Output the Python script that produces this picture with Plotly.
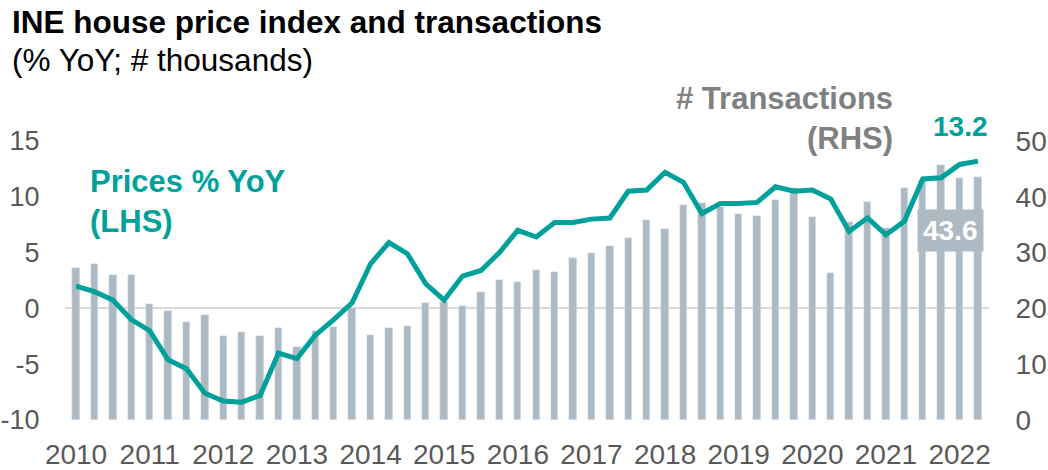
import plotly.graph_objects as go

# Quarterly data, 2010Q1 .. 2022Q2
transactions = [27.2, 27.9, 25.9, 25.9,
                20.8, 19.5, 17.5, 18.9,
                15.1, 15.8, 15.0, 16.4,
                13.1, 15.9, 16.6, 20.0,
                15.3, 16.4, 16.9, 20.9,
                21.2, 20.5, 22.9, 25.1,
                24.8, 26.8, 26.6, 29.0,
                29.9, 31.1, 32.6, 35.8,
                34.3, 38.6, 38.9, 38.1,
                36.9, 36.5, 39.5, 41.6,
                36.3, 26.3, 35.5, 39.0,
                34.4, 41.6, 43.0, 45.7,
                43.4, 43.6]
prices_yoy = [2.0, 1.5, 0.75, -1.0,
              -2.0, -4.6, -5.4, -7.6,
              -8.3, -8.4, -7.8, -4.0,
              -4.5, -2.4, -1.0, 0.5,
              4.0, 5.9, 4.9, 2.2,
              0.75, 2.9, 3.4, 5.0,
              7.0, 6.4, 7.7, 7.7,
              8.0, 8.1, 10.5, 10.6,
              12.2, 11.3, 8.5, 9.4,
              9.4, 9.5, 10.9, 10.5,
              10.6, 9.8, 6.9, 8.1,
              6.6, 7.8, 11.6, 11.7,
              12.9, 13.2]
years = ["2010", "2011", "2012", "2013", "2014", "2015", "2016",
         "2017", "2018", "2019", "2020", "2021", "2022"]
left_ticks = [-10, -5, 0, 5, 10, 15]
left_tick_text = ["-10", "-5", "0", "5", "10", "15"]
right_ticks = [0, 10, 20, 30, 40, 50]

TEAL = "#00A19A"
BAR = "#ADB9C3"
TICK = "#595959"
FONT = "Liberation Sans, Arial, sans-serif"

x_idx = list(range(len(transactions)))
year_pos = [i * 4 for i in range(len(years))]

fig = go.Figure()
fig.add_trace(go.Bar(x=x_idx, y=transactions, marker_color=BAR, width=0.4,
                     yaxis="y", name="# Transactions", hoverinfo="y"))
fig.add_trace(go.Scatter(x=x_idx, y=prices_yoy, mode="lines", yaxis="y2",
                         line=dict(color=TEAL, width=5), name="Prices % YoY"))

L, R, T, B = 65, 59, 141, 50
W, H = 1048, 470
pw = W - L - R
ph = H - T - B


def px(xp):
    return (xp - L) / pw


def py(yp):
    return (H - B - yp) / ph


fig.update_layout(
    width=W, height=H,
    margin=dict(l=L, r=R, t=T, b=B, autoexpand=False),
    paper_bgcolor="white", plot_bgcolor="white",
    showlegend=False,
    bargap=0,
    font=dict(family=FONT, color=TICK),
    xaxis=dict(range=[-0.6, len(transactions) - 0.4], tickvals=year_pos, ticktext=years,
               showgrid=False, zeroline=False, showline=False, automargin=False,
               ticks="outside", ticklen=9, tickcolor="rgba(0,0,0,0)",
               tickfont=dict(size=28, color=TICK, family=FONT)),
    yaxis=dict(range=[0, 50], tickvals=right_ticks, side="right",
               showgrid=False, zeroline=False, showline=False, automargin=False,
               ticks="outside", ticklen=20, tickcolor="rgba(0,0,0,0)",
               tickfont=dict(size=28, color=TICK, family=FONT)),
    yaxis2=dict(range=[-10, 15], tickvals=left_ticks, ticktext=left_tick_text,
                side="left", overlaying="y", automargin=False,
                showgrid=False, zeroline=True, zerolinecolor="#D9D9D9", zerolinewidth=2,
                showline=False,
                ticks="outside", ticklen=19, tickcolor="rgba(0,0,0,0)",
                tickfont=dict(size=27, color=TICK, family=FONT)),
)

ann = []
ann.append(dict(text="<b>INE house price index and transactions</b>", xref="paper", yref="paper",
                x=px(10), y=py(22), xanchor="left", yanchor="middle", showarrow=False,
                font=dict(size=31.5, color="#000000", family=FONT)))
ann.append(dict(text="(% YoY; # thousands)", xref="paper", yref="paper",
                x=px(10), y=py(60), xanchor="left", yanchor="middle", showarrow=False,
                font=dict(size=31.5, color="#000000", family=FONT)))
ann.append(dict(text="<b>Prices % YoY<br>(LHS)</b>", xref="paper", yref="paper",
                x=px(88), y=py(201), xanchor="left", yanchor="middle", align="left",
                showarrow=False, font=dict(size=31, color=TEAL, family=FONT)))
ann.append(dict(text="<b># Transactions<br>(RHS)</b>", xref="paper", yref="paper",
                x=px(895), y=py(119), xanchor="right", yanchor="middle", align="right",
                showarrow=False, font=dict(size=31, color="#808080", family=FONT)))
ann.append(dict(text="<b>%.1f</b>" % prices_yoy[-1], xref="paper", yref="paper",
                x=px(990), y=py(127), xanchor="right", yanchor="middle",
                showarrow=False, font=dict(size=28, color=TEAL, family=FONT)))
ann.append(dict(text="<b>%.1f</b>" % transactions[-1], xref="paper", yref="paper",
                x=px(950), y=py(230), xanchor="center", yanchor="middle",
                showarrow=False, bgcolor=BAR, borderpad=5,
                font=dict(size=28, color="white", family=FONT)))
fig.update_layout(annotations=ann)

fig.write_html("out.html", config={"displayModeBar": False},
               post_script="document.body.style.margin='0';document.body.style.padding='0';")
